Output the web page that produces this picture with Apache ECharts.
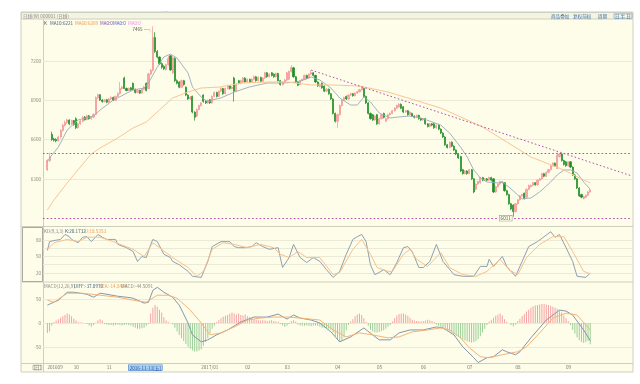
<!DOCTYPE html>
<html>
<head>
<meta charset="utf-8">
<script src="https://cdn.jsdelivr.net/npm/echarts@6.0.0/dist/echarts.min.js"></script>
<style>
html,body{margin:0;padding:0;background:#fff;}
#chart{width:640px;height:384px;}
</style>
</head>
<body>
<div id="chart"></div>
<script>
// ---------------- DATA ----------------
// daily candles: [open, close, low, high]
const candles = [
[6370,6440,6360,6450],[6440,6470,6430,6500],[6640,6600,6590,6660],[6605,6595,6585,6615],[6600,6590,6580,6610],
[6590,6620,6585,6630],[6620,6670,6610,6680],[6670,6710,6660,6720],[6710,6730,6700,6745],[6730,6750,6720,6760],
[6750,6720,6710,6755],[6720,6745,6712,6752],[6745,6715,6705,6750],[6760,6690,6680,6770],[6690,6720,6685,6728],
[6720,6742,6712,6750],[6740,6770,6732,6780],[6772,6752,6745,6780],[6752,6782,6748,6790],[6782,6760,6752,6788],
[6760,6772,6750,6780],[6772,6792,6765,6800],[6792,6920,6788,6930],[6920,6942,6910,6950],[6942,6902,6895,6948],
[6902,6890,6882,6910],[6890,6902,6884,6910],[6905,6885,6878,6912],[6885,6910,6880,6918],[6910,6922,6902,6930],
[6922,6900,6894,6928],[6900,6930,6895,6936],[6930,6952,6925,6960],[6952,6990,6945,7040],[6990,7000,6982,7010],
[7070,6990,6985,7080],[6990,6975,6968,6998],[6975,6990,6970,6998],[6995,6980,6972,7002],[7030,6982,6975,7036],
[6985,6960,6952,6990],[6960,6976,6955,6982],[6976,6955,6948,6980],[6955,6985,6950,6990],[6985,7002,6978,7010],
[7030,6975,6968,7036],[6990,7100,6985,7110],[7100,7130,7092,7140],[7130,7380,7120,7465],[7380,7272,7262,7420],
[7272,7230,7220,7284],[7230,7180,7170,7236],[7180,7152,7140,7190],[7160,7140,7130,7168],[7135,7172,7128,7180],
[7172,7222,7165,7240],[7240,7132,7125,7246],[7110,7225,7100,7235],[7220,7050,7040,7228],[7050,7030,7022,7060],
[7040,7000,6992,7046],[7000,7050,6995,7058],[7050,7020,7012,7056],[7000,6940,6932,7006],[6940,6910,6902,6946],
[6910,6925,6904,6932],[6930,6810,6800,6936],[6810,6770,6745,6816],[6780,6830,6772,6838],[6830,6860,6824,6866],
[6860,6880,6852,6886],[6940,6890,6882,6946],[6895,6880,6872,6902],[6880,6900,6874,6906],[6905,6880,6872,6910],
[6880,6930,6875,6936],[6930,6960,6925,6968],[6960,6930,6922,6966],[6930,6970,6925,6976],[6970,6990,6962,6998],
[6990,6950,6942,6996],[6950,6990,6945,6996],[6990,7010,6982,7018],[7010,6990,6982,7016],[6990,7000,6984,7008],
[7070,6970,6890,7080],[6970,7020,6965,7028],[7050,7030,7022,7056],[7030,7050,7024,7058],[7040,7070,7034,7078],
[7070,7040,7032,7076],[7040,7060,7034,7066],[7060,7040,7032,7066],[7040,7060,7034,7068],[7060,7080,7052,7090],
[7080,7050,7042,7086],[7050,7075,7044,7082],[7075,7045,7038,7080],[7045,7070,7040,7076],[7070,7110,7064,7118],
[7110,7080,7072,7116],[7080,7100,7074,7106],[7110,7090,7082,7116],[7100,7080,7072,7106],[7080,7105,7074,7112],
[7105,7050,7042,7110],[7050,7020,7012,7056],[7020,7040,7014,7046],[7040,7055,7034,7062],[7055,7110,7048,7116],
[7060,7120,7055,7128],[7120,7150,7112,7170],[7148,7080,7072,7155],[7080,7040,7032,7086],[7040,7015,7008,7046],
[7020,7050,7014,7056],[7050,7060,7044,7066],[7060,7090,7054,7096],[7090,7070,7062,7096],[7070,7100,7064,7106],
[7100,7112,7094,7130],[7110,7090,7082,7116],[7090,7040,7032,7096],[7040,7010,7002,7046],[7005,7022,7000,7030],
[7030,6995,6988,7036],[7010,6970,6962,7016],[6970,6985,6964,6992],[6985,6950,6942,6990],[6950,6910,6902,6956],
[6910,6800,6792,6916],[6800,6740,6730,6806],[6740,6790,6690,6800],[6790,6860,6784,6868],[6860,6900,6854,6908],
[6900,6920,6894,6928],[6930,6910,6902,6936],[6910,6940,6904,6946],[6940,6950,6934,6958],[6950,6935,6928,6956],
[6935,6955,6930,6962],[6955,6965,6948,6972],[6965,6980,6960,6988],[6980,7000,6974,7008],[6990,6930,6922,6996],
[6930,6880,6872,6936],[6880,6800,6792,6886],[6800,6760,6752,6806],[6790,6750,6742,6796],[6750,6780,6744,6786],
[6790,6720,6712,6796],[6720,6760,6714,6766],[6760,6790,6754,6796],[6800,6770,6762,6806],[6740,6760,6734,6768],
[6760,6790,6754,6796],[6790,6800,6784,6808],[6800,6820,6794,6826],[6820,6840,6814,6846],[6840,6860,6834,6868],
[6850,6870,6844,6878],[6870,6840,6832,6876],[6850,6810,6802,6856],[6810,6820,6804,6826],[6820,6790,6782,6826],
[6790,6810,6784,6816],[6800,6780,6772,6806],[6780,6770,6762,6786],[6770,6785,6764,6792],[6785,6760,6752,6790],
[6760,6750,6742,6766],[6750,6760,6744,6766],[6760,6720,6712,6766],[6720,6700,6692,6726],[6700,6720,6694,6726],
[6720,6710,6702,6726],[6720,6690,6682,6726],[6690,6710,6684,6716],[6710,6680,6672,6716],[6680,6650,6642,6686],
[6650,6620,6612,6656],[6620,6560,6552,6626],[6560,6540,6532,6566],[6540,6580,6534,6586],[6580,6550,6542,6586],
[6550,6520,6512,6556],[6520,6490,6482,6526],[6490,6460,6452,6496],[6470,6360,6352,6476],[6370,6340,6332,6376],
[6340,6360,6334,6366],[6360,6340,6332,6366],[6340,6370,6334,6376],[6370,6300,6292,6376],[6300,6200,6190,6306],
[6220,6260,6214,6266],[6260,6280,6254,6286],[6270,6310,6264,6316],[6310,6290,6282,6316],[6290,6300,6284,6306],
[6300,6290,6282,6306],[6290,6310,6284,6316],[6310,6290,6282,6316],[6300,6200,6192,6306],[6200,6240,6194,6246],
[6240,6260,6234,6266],[6260,6280,6254,6286],[6270,6280,6264,6286],[6270,6210,6202,6276],[6210,6180,6172,6216],
[6180,6110,6102,6186],[6110,6070,6062,6116],[6100,6050,6011,6106],[6050,6110,6044,6116],[6110,6140,6104,6146],
[6140,6170,6134,6176],[6170,6180,6164,6186],[6190,6150,6142,6196],[6160,6220,6154,6226],[6220,6250,6214,6256],
[6240,6250,6234,6256],[6250,6270,6244,6276],[6270,6255,6248,6276],[6255,6290,6250,6296],[6290,6300,6284,6306],
[6300,6340,6294,6346],[6340,6320,6312,6346],[6320,6350,6314,6356],[6350,6370,6344,6376],[6370,6400,6364,6406],
[6400,6420,6394,6426],[6420,6400,6392,6426],[6380,6480,6374,6500],[6470,6490,6464,6496],[6490,6440,6432,6496],
[6440,6410,6402,6446],[6430,6400,6392,6436],[6400,6430,6394,6436],[6430,6390,6382,6436],[6390,6330,6322,6396],
[6330,6300,6292,6336],[6300,6230,6222,6306],[6230,6170,6162,6236],[6180,6160,6152,6186],[6150,6165,6144,6172],
[6160,6175,6154,6182],[6175,6200,6168,6206],[6200,6215,6194,6222]
];
// moving averages, read as [candle index, value]
const ma10 = [[0,6429],[1,6460],[5,6543],[9,6673],[14,6750],[21,6780],[24,6826],[30,6902],[39,6979],[44,6994],[46,7032],[50,7154],[53,7231],[56,7253],[59,7223],[64,7108],[66,7002],[70,6925],[73,6887],[75,6902],[79,6918],[85,6963],[92,7002],[100,7032],[107,7032],[114,7040],[120,7078],[124,7055],[129,6994],[133,6918],[138,6864],[141,6864],[144,6925],[147,6887],[151,6803],[156,6765],[160,6773],[165,6780],[170,6765],[179,6711],[183,6650],[188,6543],[191,6467],[194,6368],[197,6307],[200,6276],[205,6269],[207,6276],[210,6238],[214,6177],[216,6147],[220,6154],[224,6200],[229,6276],[232,6330],[235,6368],[238,6368],[241,6345],[244,6276],[247,6221]];
const ma60 = [[0,6063],[3,6139],[9,6269],[15,6391],[20,6490],[24,6536],[32,6612],[39,6689],[45,6734],[51,6826],[57,6918],[64,6963],[70,6994],[79,7002],[88,7032],[100,7040],[109,7040],[120,7017],[130,7017],[142,7009],[155,6963],[164,6918],[170,6887],[179,6841],[188,6773],[198,6696],[209,6582],[220,6467],[227,6421],[235,6368],[242,6307],[247,6269]];
// KD indicator
const kLine = [[0,61],[1,77],[3,79],[6,81],[8,90],[10,86],[11,81],[14,75],[16,85],[18,86],[20,77],[23,90],[25,85],[27,81],[31,81],[32,72],[36,66],[39,59],[41,41],[43,50],[45,48],[47,72],[48,81],[50,77],[53,54],[56,48],[57,41],[60,35],[64,23],[66,14],[70,12],[73,41],[75,68],[79,77],[83,77],[85,68],[87,66],[90,66],[93,68],[95,75],[98,68],[101,63],[105,66],[107,30],[110,48],[112,72],[115,48],[118,39],[121,48],[124,41],[127,26],[130,12],[133,23],[136,54],[139,81],[141,86],[143,90],[145,77],[147,35],[149,17],[151,21],[153,26],[156,17],[159,39],[162,66],[164,68],[166,59],[169,30],[171,30],[174,41],[177,72],[180,41],[185,17],[189,14],[194,14],[197,32],[200,32],[201,45],[203,32],[207,50],[209,32],[213,14],[216,41],[219,68],[223,77],[229,95],[231,85],[233,90],[236,66],[239,41],[241,14],[245,12],[247,20.17]];
const dLine = [[0,63],[3,75],[9,81],[14,77],[18,85],[24,85],[30,77],[39,63],[44,50],[48,75],[51,66],[57,48],[64,30],[68,14],[71,23],[75,63],[80,75],[85,72],[91,66],[97,72],[103,66],[106,54],[110,48],[114,59],[118,48],[124,48],[130,17],[133,21],[139,63],[143,81],[147,54],[150,30],[155,23],[157,23],[162,54],[165,63],[168,45],[173,32],[179,57],[183,30],[189,17],[195,14],[200,23],[206,45],[210,26],[214,17],[218,48],[224,72],[230,86],[235,86],[239,59],[244,23],[247,18.54]];
// MACD indicator
const diffLine = [[0,37.5],[1,39.6],[5,47.9],[9,64.6],[12,64.6],[15,62.5],[18,60.4],[21,54.2],[24,62.5],[27,60.4],[32,56.2],[36,54.2],[39,52.1],[44,41.7],[46,43.7],[48,68.7],[50,75],[53,64.6],[57,54.2],[60,37.5],[64,0],[66,-25],[70,-39.6],[73,-35.4],[77,-25],[82,-14.6],[88,2.1],[94,12.5],[100,12.5],[105,18.7],[109,8.3],[112,16.7],[115,10.4],[120,6.2],[124,0],[129,-18.7],[133,-39.6],[138,-29.2],[144,-10.4],[148,-25],[151,-35.4],[156,-35.4],[160,-20.8],[165,-14.6],[171,-14.6],[177,-8.3],[180,-10.4],[185,-25],[189,-50],[194,-72.9],[196,-83],[200,-72.9],[203,-70.8],[207,-56.2],[209,-60.4],[213,-66.7],[215,-60.4],[220,-31.2],[227,6.2],[233,27.1],[236,25],[239,16.7],[244,-14.6],[247,-37.1]];
const deaLine = [[0,47.9],[3,43.7],[9,62.5],[16,62.5],[24,58.3],[32,54.2],[39,47.9],[45,43.7],[50,58.3],[55,58.3],[59,52.1],[65,27.1],[70,0],[74,-25],[79,-20.8],[85,-8.3],[91,6.2],[97,10.4],[103,12.5],[109,12.5],[115,10.4],[124,6.2],[130,-14.6],[136,-29.2],[142,-20.8],[148,-25],[155,-31.2],[160,-29.2],[166,-18.7],[173,-14.6],[179,-10.4],[183,-14.6],[188,-31.2],[192,-52.1],[197,-70.8],[201,-72.9],[207,-66.7],[214,-60.4],[218,-50],[224,-20.8],[230,10.4],[236,20.8],[241,16.7],[247,-14.8]];
const macdHist = [
-21,-18,-5,2,5,8,11,14,17,20,18,14,9,5,2,1,1,0,-2,-5,-8,-4,1,6,8,5,
-2,-3,-4,-4,-5,-4,-3,-4,-5,-4,-3,-4,-5,-8,-10,-12,-12,-11,-10,-6,-2,
20,32,38,34,28,22,12,5,2,0,-3,-10,-18,-25,-32,-38,-44,-50,-54,-58,-60,-60,-58,-55,
-48,-40,-32,-22,-12,-5,2,6,10,13,15,17,20,22,20,18,20,17,16,18,14,12,10,
8,7,6,5,6,5,4,5,6,4,3,2,-2,-5,-8,-6,-2,4,6,3,
-3,-5,-6,-6,-5,-6,-7,-6,-5,-6,-8,-10,-10,-11,-12,-14,-20,-28,-35,-40,-38,-30,-15,-4,3,
8,14,18,20,17,10,2,-6,-14,-18,-20,-20,-19,-17,-15,-12,-8,-4,3,10,16,19,20,20,18,15,11,7,
5,4,4,3,4,5,7,6,4,2,-3,-6,-8,-10,
-12,-14,-17,-20,-23,-26,-29,-32,-35,-37,-39,-40,-41,-40,-38,-34,-28,-20,-12,-4,
3,7,11,15,18,20,16,8,2,0,-4,-7,-3,
4,9,14,19,24,28,32,35,37,38,39,40,40,39,38,36,34,32,30,26,22,16,10,4,-4,
-14,-22,-30,-36,-40,-42,-40,-38,-44.5
];
const priceTicks = [6300, 6600, 6900, 7200];
const kdjTicks = [20, 35, 50, 65, 80];
const kdjLabels = [20, 50, 80];
const macdTicks = [-50, 0, 50];
const monthLabels = [[0,'201609'],[12,'10'],[27,'11'],[70,'2017/01'],[90,'02'],[108,'03'],[131,'04'],[150,'05'],[170,'06'],[191,'07'],[213,'08'],[236,'09']];
const cursorLabel = [37, '2016-11-11[五]'];
const highPoint = [48, 7465];
const lowPoint = [212, 6011];
const trendLine = [[120, 7131], [266, 6322]];
const supportLevels = [6496, 6001];
const mainLegend = [['K','#555555'],['MA10:6221','#44607e'],['MA60:6269','#f29a4a'],['MA0:0','#7a4fb0'],['MA0:0','#4a5fd0'],['MA0:0','#f08ef0']];
const kdjLegend = [['KD(9,3,3)','#888888'],['K:20.1732','#44607e'],['D:18.5353','#f29a4a']];
const macdLegend = [['MACD(12,26,9)','#888888'],['DIFF:-37.0970','#44607e'],['DEA:-14.8424','#f29a4a'],['MACD:-44.5091','#888888']];

// ---------------- BUILD ----------------
const OFF = 2;          // empty slots before first candle
const NCAT = 269;       // total slots on the time axis
const cats = [];
for (let i = 0; i < NCAT; i++) cats.push('c' + i);
const labelMap = {};
monthLabels.forEach(m => { labelMap[m[0] + OFF] = m[1]; });
labelMap[cursorLabel[0] + OFF] = '{hl|' + cursorLabel[1] + '}';

const pad = Array(OFF).fill('-');
const sh = a => a.map(p => [p[0] + OFF, p[1]]);
const FONT = '"Noto Sans CJK SC", "DejaVu Sans", sans-serif';
const FS = 4.6;

const chart = echarts.init(document.getElementById('chart'), null, {renderer: 'canvas'});

function txt(x, y, s, color, extra) {
  return Object.assign({type: 'text', x: x, y: y, silent: true, z: 50,
    style: Object.assign({text: s, fill: color, fontSize: FS, fontFamily: FONT, verticalAlign: 'middle', align: 'left'}, extra || {})});
}
function legendRow(items, xs, y) {
  return items.map((it, i) => txt(xs[i], y, it[0], it[1]));
}

const gridLine = '#ebead6';
const frame = '#cfcfbd';
const purple = '#b44fae';
const dotted = {color: purple, type: [1.6, 2.2], width: 1, opacity: 1};

const option = {
  animation: false,
  backgroundColor: '#ffffff',
  textStyle: {fontFamily: FONT},
  grid: [
    {left: 43, right: 8, top: 19, height: 207, outerBoundsMode: 'none'},
    {left: 43, right: 8, top: 227, height: 54, outerBoundsMode: 'none'},
    {left: 43, right: 8, top: 283, height: 80, outerBoundsMode: 'none'}
  ],
  xAxis: [0, 1, 2].map(g => ({
    type: 'category', gridIndex: g, data: cats, boundaryGap: false,
    axisLine: {show: false}, axisTick: {show: false}, splitLine: {show: false},
    axisLabel: g === 2 ? {
      show: true, fontSize: FS, color: '#777', margin: 2, align: 'left', fontFamily: FONT,
      interval: (idx) => labelMap[idx] !== undefined,
      formatter: (v, idx) => labelMap[idx] || '',
      rich: {hl: {backgroundColor: '#a8d0f6', borderColor: '#4f86d0', borderWidth: 0.6, color: '#1d4f9a', fontSize: FS, padding: [0.5, 1, 0, 1], fontFamily: FONT}}
    } : {show: false}
  })),
  yAxis: [
    {type: 'value', gridIndex: 0, min: 5940, max: 7521, axisLine: {show: false},
     axisTick: {show: false, customValues: priceTicks},
     axisLabel: {customValues: priceTicks, fontSize: FS, color: '#8a8a80', margin: 2, formatter: v => String(v)},
     splitLine: {show: true, lineStyle: {color: gridLine, width: 1}}},
    {type: 'value', gridIndex: 1, min: 5.45, max: 103.6, axisLine: {show: false},
     axisTick: {show: false, customValues: kdjTicks},
     axisLabel: {customValues: kdjLabels, fontSize: FS, color: '#8a8a80', margin: 2, formatter: v => String(v)},
     splitLine: {show: true, lineStyle: {color: gridLine, width: 1}}},
    {type: 'value', gridIndex: 2, min: -84, max: 84, axisLine: {show: false},
     axisTick: {show: false, customValues: macdTicks},
     axisLabel: {customValues: macdTicks, fontSize: FS, color: '#8a8a80', margin: 2, formatter: v => String(v)},
     splitLine: {show: true, lineStyle: {color: gridLine, width: 1}}}
  ],
  series: [
    {type: 'candlestick', xAxisIndex: 0, yAxisIndex: 0, data: pad.concat(candles),
     barWidth: 1.6,
     itemStyle: {color: '#f8aaaa', color0: '#1c8e24', borderColor: '#f39090', borderColor0: '#1c8e24', borderWidth: 0.7},
     markPoint: {
       silent: true, symbol: 'circle', symbolSize: 1, itemStyle: {color: 'rgba(0,0,0,0)'},
       data: [
         {coord: [highPoint[0] + OFF, highPoint[1]], value: highPoint[1],
          label: {show: true, position: 'left', distance: 0, offset: [0, 3], formatter: '{c} —┐', fontSize: FS, color: '#555', fontFamily: FONT}},
         {coord: [lowPoint[0] + OFF, lowPoint[1]], value: lowPoint[1],
          label: {show: true, position: 'left', distance: 1, offset: [0, 1.5], formatter: '{c}', fontSize: FS, color: '#555', fontFamily: FONT,
                  borderColor: '#999', borderWidth: 0.6, padding: [0.5, 1, 0, 1], backgroundColor: '#fdfde9'}}
       ]
     }},
    {type: 'line', xAxisIndex: 0, yAxisIndex: 0, data: sh(ma10), symbol: 'none', lineStyle: {color: '#9aaabb', width: 0.9}, z: 3},
    {type: 'line', xAxisIndex: 0, yAxisIndex: 0, data: sh(ma60), symbol: 'none', lineStyle: {color: '#fbc592', width: 1}, z: 3,
     markLine: {
       silent: true, symbol: 'none', label: {show: false},
       lineStyle: dotted, emphasis: {disabled: true},
       data: [
         [{coord: [trendLine[0][0] + OFF, trendLine[0][1]]}, {coord: [trendLine[1][0] + OFF, trendLine[1][1]]}],
         [{coord: [0, supportLevels[0]]}, {coord: [NCAT - 1, supportLevels[0]]}],
         [{coord: [0, supportLevels[1]]}, {coord: [NCAT - 1, supportLevels[1]]}]
       ]
     }},
    {type: 'line', xAxisIndex: 1, yAxisIndex: 1, data: sh(kLine), symbol: 'none', lineStyle: {color: '#8fa0b2', width: 1}},
    {type: 'line', xAxisIndex: 1, yAxisIndex: 1, data: sh(dLine), symbol: 'none', lineStyle: {color: '#f9c08e', width: 1}},
    {type: 'bar', xAxisIndex: 2, yAxisIndex: 2, barWidth: 1,
     data: pad.concat(macdHist.map(v => ({value: v, itemStyle: {color: v >= 0 ? '#f5a3a3' : '#9ccf98'}})))},
    {type: 'line', xAxisIndex: 2, yAxisIndex: 2, data: sh(diffLine), symbol: 'none', lineStyle: {color: '#8596aa', width: 1}, z: 4},
    {type: 'line', xAxisIndex: 2, yAxisIndex: 2, data: sh(deaLine), symbol: 'none', lineStyle: {color: '#f7b37a', width: 1}, z: 4}
  ],
  graphic: [].concat(
    [
      {type: 'rect', silent: true, z: -20, shape: {x: 21, y: 12, width: 612, height: 360}, style: {fill: '#fdfde9', stroke: frame, lineWidth: 1}},
      {type: 'rect', silent: true, z: -19, shape: {x: 21.5, y: 12.5, width: 611, height: 6.5}, style: {fill: '#f4f4e3', stroke: frame, lineWidth: 1}},
      {type: 'line', silent: true, z: -5, shape: {x1: 43.5, y1: 19, x2: 43.5, y2: 372}, style: {stroke: frame, lineWidth: 1}},
      {type: 'line', silent: true, z: -5, shape: {x1: 21, y1: 226.5, x2: 633, y2: 226.5}, style: {stroke: frame, lineWidth: 1}},
      {type: 'line', silent: true, z: -5, shape: {x1: 21, y1: 282, x2: 633, y2: 282}, style: {stroke: frame, lineWidth: 1}},
      {type: 'line', silent: true, z: -5, shape: {x1: 21, y1: 363.5, x2: 633, y2: 363.5}, style: {stroke: frame, lineWidth: 1}},
      {type: 'rect', silent: true, z: -4, shape: {x: 22.5, y: 227.5, width: 20, height: 54}, style: {fill: 'none', stroke: '#a9a9a0', lineWidth: 1}},
      {type: 'rect', silent: true, z: -4, shape: {x: 162, y: 11, width: 6, height: 1.5}, style: {fill: '#d8d8d8'}},
      txt(23, 15.8, '日线(W) 000001 (日线)', '#8a8a8a'),
      txt(551, 16, '商品叠加', '#3b6fa8'),
      txt(573, 16, '复权前权', '#3b6fa8'),
      txt(598, 16, '周期', '#3b6fa8'),
      txt(614, 16, '日 半 日', '#3b6fa8', {borderColor: '#7a9cc8', borderWidth: 0.6, padding: [0, 1, 0, 1]}),
      txt(33, 367.5, '[日]', '#666', {borderColor: '#999', borderWidth: 0.6, padding: [0, 0.5, 0, 0.5]})
    ],
    legendRow(mainLegend, [44, 50, 75, 100, 113, 128], 23),
    legendRow(kdjLegend, [44, 65, 85], 231),
    legendRow(macdLegend, [44, 74, 99, 121], 286.5)
  )
};
chart.setOption(option);
</script>
</body>
</html>
